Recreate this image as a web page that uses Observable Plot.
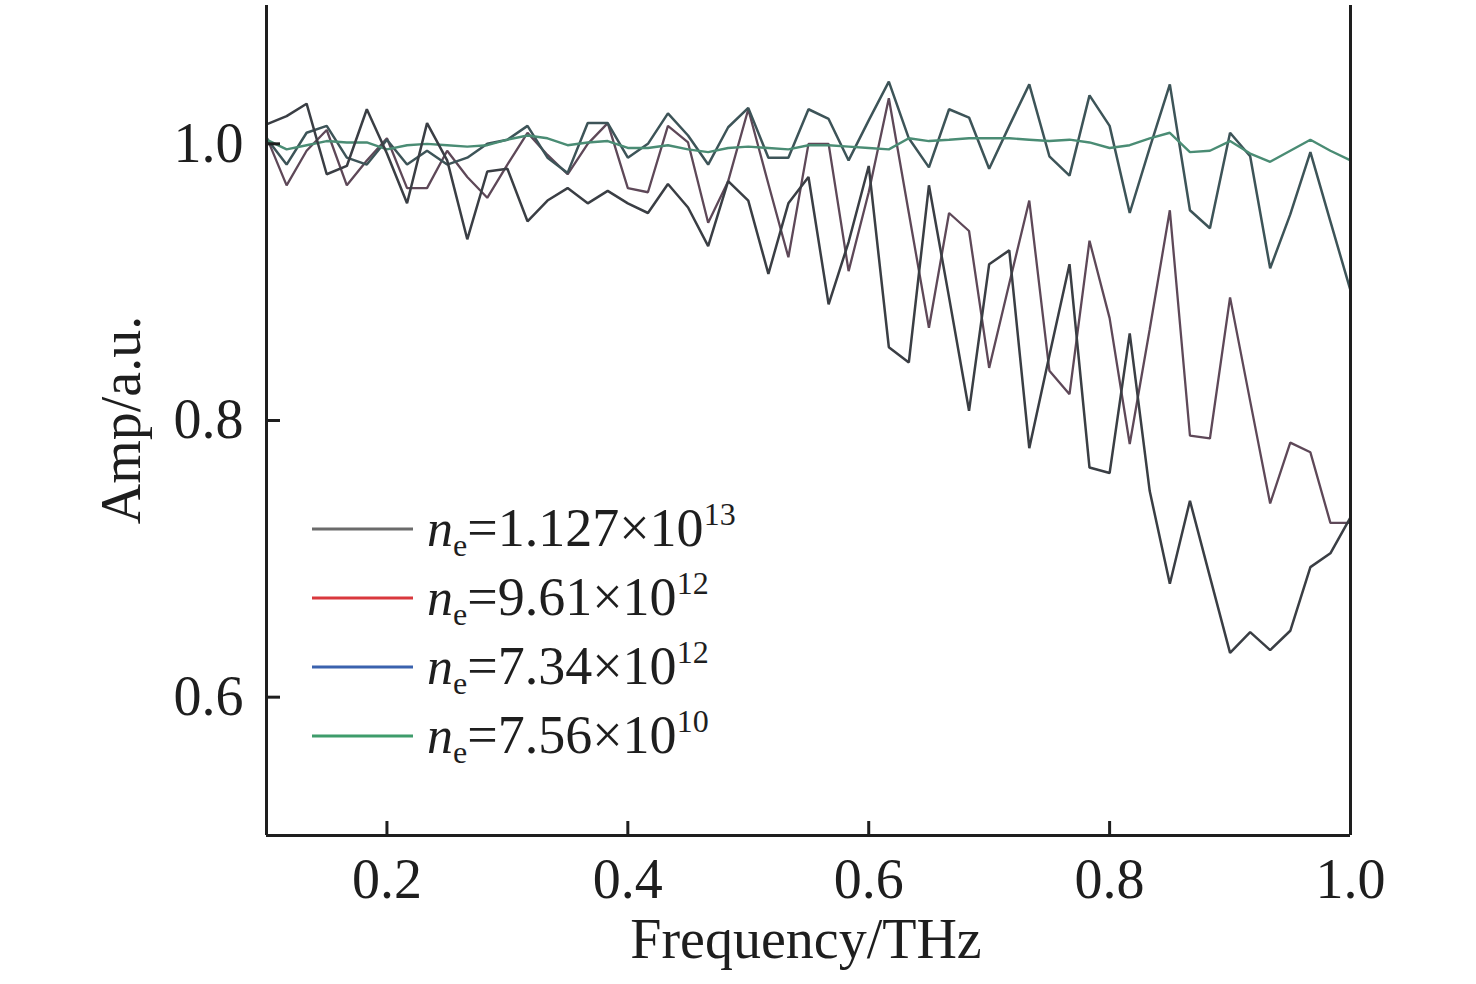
<!DOCTYPE html>
<html><head><meta charset="utf-8">
<script src="https://cdn.jsdelivr.net/npm/d3@7"></script>
<script src="https://cdn.jsdelivr.net/npm/@observablehq/plot@0.6"></script>
<style>html,body{margin:0;padding:0;background:#fff}#chart{width:1476px;height:984px}</style>
</head><body><div id="chart"></div>
<script>
const freq = [0.1, 0.1167, 0.1333, 0.15, 0.1667, 0.1833, 0.2, 0.2167, 0.2333, 0.25, 0.2667, 0.2833, 0.3, 0.3167, 0.3333, 0.35, 0.3667, 0.3833, 0.4, 0.4167, 0.4333, 0.45, 0.4667, 0.4833, 0.5, 0.5167, 0.5333, 0.55, 0.5667, 0.5833, 0.6, 0.6167, 0.6333, 0.65, 0.6667, 0.6833, 0.7, 0.7167, 0.7333, 0.75, 0.7667, 0.7833, 0.8, 0.8167, 0.8333, 0.85, 0.8667, 0.8833, 0.9, 0.9167, 0.9333, 0.95, 0.9667, 0.9833, 1.0];

const ne1127e13 = [1.014, 1.020, 1.029, 0.978, 0.984, 1.025, 0.993, 0.957, 1.015, 0.988, 0.931, 0.980, 0.982, 0.944, 0.959, 0.968, 0.957, 0.966, 0.957, 0.950, 0.971, 0.954, 0.926, 0.973, 0.959, 0.906, 0.957, 0.976, 0.884, 0.929, 0.984, 0.853, 0.842, 0.970, 0.889, 0.807, 0.913, 0.923, 0.780, 0.847, 0.913, 0.766, 0.762, 0.863, 0.749, 0.682, 0.742, 0.687, 0.632, 0.647, 0.634, 0.648, 0.694, 0.704, 0.730];
const ne961e12 = [1.005, 0.970, 0.995, 1.010, 0.970, 0.988, 1.004, 0.968, 0.968, 0.995, 0.976, 0.961, 0.985, 1.008, 0.992, 0.978, 1.000, 1.015, 0.968, 0.965, 1.013, 1.001, 0.943, 0.973, 1.025, 0.971, 0.918, 1.000, 1.000, 0.908, 0.965, 1.033, 0.950, 0.867, 0.950, 0.937, 0.838, 0.899, 0.959, 0.836, 0.819, 0.930, 0.874, 0.783, 0.866, 0.952, 0.789, 0.787, 0.889, 0.814, 0.740, 0.784, 0.777, 0.726, 0.726];
const ne734e12 = [1.004, 0.985, 1.008, 1.013, 0.990, 0.985, 1.003, 0.985, 0.995, 0.985, 0.990, 1.000, 1.003, 1.013, 0.990, 0.979, 1.015, 1.015, 0.990, 1.000, 1.022, 1.006, 0.985, 1.012, 1.026, 0.990, 0.990, 1.025, 1.018, 0.988, 1.017, 1.045, 1.004, 0.983, 1.025, 1.019, 0.982, 1.013, 1.043, 0.991, 0.977, 1.035, 1.013, 0.950, 0.997, 1.043, 0.952, 0.939, 1.008, 0.991, 0.910, 0.949, 0.994, 0.944, 0.894];
const ne756e10 = [1.003, 0.996, 0.999, 1.002, 1.001, 1.001, 0.996, 0.999, 1.000, 0.999, 0.998, 0.999, 1.003, 1.006, 1.004, 0.999, 1.001, 1.002, 0.997, 0.997, 0.999, 0.996, 0.994, 0.997, 0.998, 0.997, 0.996, 0.999, 0.999, 0.998, 0.997, 0.996, 1.004, 1.002, 1.003, 1.004, 1.004, 1.004, 1.003, 1.002, 1.003, 1.001, 0.997, 0.999, 1.004, 1.008, 0.994, 0.995, 1.002, 0.993, 0.987, 0.995, 1.003, 0.995, 0.988];

const seriesNames = ["1.127×10|13", "9.61×10|12", "7.34×10|12", "7.56×10|10"];
const seriesValues = [ne1127e13, ne961e12, ne734e12, ne756e10];
const legendColors = ["#6b6b6b", "#d9383d", "#3a62ae", "#3e9c6b"];
const lineColors = ["#3a3e44", "#5e4858", "#3d5458", "#4a8c74"];
const lineWidths = [2.5, 2.3, 2.5, 2.4];
const drawOrder = [1, 2, 3, 0];

const xTicks = [0.2, 0.4, 0.6, 0.8, 1.0];
const yTicks = [0.6, 0.8, 1.0];

const tables = seriesValues.map((vals, k) => vals.map((v, i) => ({f: freq[i], amp: v, s: k})));

const ink = "#1e1e1e";
const font = "'Liberation Serif', 'Times New Roman', serif";
const plot = Plot.plot({
  width: 1476, height: 984,
  marginLeft: 266, marginRight: 126, marginTop: 5, marginBottom: 149,
  style: {fontFamily: font, fontSize: "56px", color: ink, background: "#fff", overflow: "visible"},
  x: {domain: [0.1, 1.0]},
  y: {domain: [0.5, 1.1]},
  marks: [
    ...drawOrder.map(k => Plot.lineY(tables[k], {x: "f", y: "amp", stroke: lineColors[k], strokeWidth: lineWidths[k], strokeLinejoin: "miter"})),
    Plot.ruleX([0.1, 1.0], {stroke: ink, strokeWidth: 3}),
    Plot.ruleY([0.5], {stroke: ink, strokeWidth: 3}),
    Plot.axisX(xTicks, {tickSize: -14, tickPadding: 37, strokeWidth: 3, stroke: ink, tickFormat: d => d.toFixed(1), label: null, fontSize: 56, fill: ink}),
    Plot.axisY(yTicks, {tickSize: -14, tickPadding: 37, strokeWidth: 3, stroke: ink, tickFormat: d => d.toFixed(1), label: null, fontSize: 56, fill: ink})
  ]
});

const svg = d3.select(plot);
svg.append("text").attr("x", 806).attr("y", 958).attr("text-anchor", "middle")
  .attr("font-family", font).attr("font-size", 56).attr("fill", ink).text("Frequency/THz");
svg.append("text").attr("transform", "translate(140,420) rotate(-90)").attr("text-anchor", "middle")
  .attr("font-family", font).attr("font-size", 56).attr("fill", ink).text("Amp/a.u.");

const lg = svg.append("g").attr("text-anchor", "start");
seriesNames.forEach((name, k) => {
  const yl = 529 + 69 * k, yt = 546 + 69 * k;
  lg.append("line").attr("x1", 312).attr("x2", 413).attr("y1", yl).attr("y2", yl)
    .attr("stroke", legendColors[k]).attr("stroke-width", 3.2);
  const [base, sup] = name.split("|");
  const t = lg.append("text").attr("x", 427).attr("y", yt).attr("text-anchor", "start")
    .attr("font-family", font).attr("font-size", 54).attr("fill", ink);
  t.append("tspan").attr("font-style", "italic").attr("font-size", 52).text("n");
  t.append("tspan").attr("font-size", 32).attr("dy", 10).text("e");
  t.append("tspan").attr("dy", -10).text("=" + base);
  t.append("tspan").attr("font-size", 32).attr("dy", -21).text(sup);
});

document.getElementById("chart").appendChild(plot);
</script>
</body></html>
